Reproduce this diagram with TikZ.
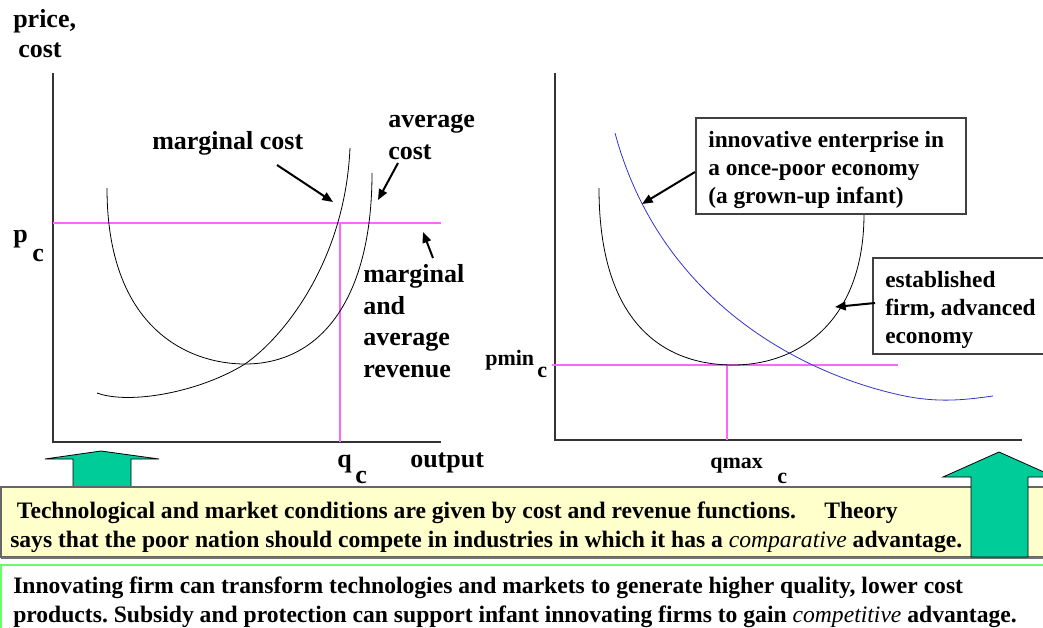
\documentclass[tikz,border=0pt]{standalone}
\usepackage{fontspec}
\setmainfont{Liberation Serif}
\usetikzlibrary{arrows.meta,positioning}
\definecolor{guidepink}{RGB}{255,102,255}
\definecolor{curveblue}{RGB}{51,51,204}
\definecolor{arrowgreen}{RGB}{0,204,153}
\definecolor{noteyellow}{RGB}{255,255,204}
\definecolor{notegreen}{RGB}{102,255,102}
\frenchspacing

\begin{document}
\begin{tikzpicture}[x=0.75pt,y=-0.75pt,
    lbl/.style={anchor=base west, inner sep=0pt, align=left, font=\fontsize{19.5}{23.6}\selectfont\bfseries},
    boxlbl/.style={anchor=base west, inner sep=0pt, align=left, font=\fontsize{17.5}{21}\selectfont\bfseries},
    notelbl/.style={anchor=base west, inner sep=0pt, align=left, font=\fontsize{17.7}{21.3}\selectfont\bfseries},
    sml/.style={anchor=base west, inner sep=0pt, font=\fontsize{16.5}{20}\selectfont\bfseries},
    axis/.style={black!80, line width=0.8pt},
    guide/.style={guidepink, line width=0.9pt},
    curve/.style={line width=0.6pt},
    pointer/.style={-{Triangle[length=8pt,width=6.5pt]}, line width=1.5pt},
    bigarrow/.style={fill=arrowgreen, draw=black, line width=0.6pt}
]
    \useasboundingbox (0,0) rectangle (1043,628);
    \clip (0,0) rectangle (1043,628);

    % left diagram
    \draw[axis] (53,73) -- (53,442) -- (441,442);
    \draw[guide] (53,223) -- (441,223);
    \draw[guide] (340,223) -- (340,442);
    \draw[curve] (107,188) .. controls (107,330) and (190,364) .. (245,364)
        .. controls (320,364) and (372,300) .. (372,173);
    \draw[curve] (97,393) .. controls (130,405) and (200,392) .. (245,364)
        .. controls (285,336) and (345,260) .. (350,148);

    \node[lbl] (price) at (13,27) {price,};
    \node[lbl] (cost) at (18,57) {cost};
    \node[lbl] (pc) at (13,242) {p};
    \node[lbl] (pcsub) at (32,261) {c};
    \node[lbl] (mclab) at (152,149) {marginal cost};
    \node[lbl] (aclab) at (388,159) {average\\cost};
    \node[lbl] (revlab) at (363,377) {marginal\\and\\average\\revenue};
    \node[lbl] (qc) at (337,467) {q};
    \node[lbl] (qcsub) at (355,483) {c};
    \node[lbl] (output) at (410,467) {output};

    \coordinate (mctail) at (277,165);
    \coordinate (mchead) at (333,202);
    \coordinate (actail) at (398,163);
    \coordinate (achead) at (378,200);
    \coordinate (revtail) at (433,258);
    \coordinate (revhead) at (423,232);
    \draw[pointer] (mctail) -- (mchead);
    \draw[pointer] (actail) -- (achead);
    \draw[pointer] (revtail) -- (revhead);

    % right diagram
    \draw[axis] (555,73) -- (555,440) -- (1022,440);
    \draw[guide] (552,365) -- (898,365);
    \draw[guide] (727,365) -- (727,440);
    \draw[curve] (599,188) .. controls (599,330) and (670,365) .. (733,365)
        .. controls (800,365) and (864,320) .. (864,214);
    \draw[curve, curveblue] (615,133) .. controls (660,300) and (800,373) .. (900,395)
        .. controls (940,404) and (970,399) .. (993,396);

    \draw[black!75, fill=white, line width=0.8pt] (696,118) rectangle (966,214);
    \draw[black!75, fill=white, line width=0.8pt] (873,258) rectangle (1050,354);
    \node[boxlbl] (innovlab) at (708,203) {innovative enterprise in\\a once-poor economy\\(a grown-up infant)};
    \node[boxlbl] (estlab) at (885,343) {established\\firm, advanced\\economy};
    \node[sml] (pmin) at (485,365) {pmin};
    \node[sml] (pminsub) at (537,377) {c};
    \node[sml] (qmax) at (710,468) {qmax};
    \node[sml] (qmaxsub) at (777,483) {c};

    \coordinate (innovtail) at (695,172);
    \coordinate (innovhead) at (642,204);
    \coordinate (esttail) at (875,303);
    \coordinate (esthead) at (835,307);
    \draw[pointer] (innovtail) -- (innovhead);
    \draw[pointer] (esttail) -- (esthead);

    % notes and arrows
    \draw[bigarrow] (101,451) -- (159,459) -- (131,459) -- (131,492) -- (73,492) -- (73,459) -- (45,459) -- cycle;
    \draw[black!60, fill=noteyellow, line width=0.8pt] (1,487) rectangle (1050,557);
    \draw[black!55, line width=1.5pt] (1,558) -- (1050,558);
    \draw[bigarrow] (999,452) -- (1055,477) -- (1028,477) -- (1028,557) -- (971,557) -- (971,477) -- (943,477) -- cycle;
    \node[notelbl] (givenlab) at (10,547) {\hspace{5pt}Technological and market conditions are given by cost and revenue functions.\hspace{1.2em}Theory\\says that the poor nation should compete in industries in which it has a \textmd{\itshape comparative} advantage.};

    \draw[notegreen, fill=white, line width=1.2pt] (1,565) rectangle (1050,640);
    \node[notelbl] (innovnote) at (13,622) {Innovating firm can transform technologies and markets to generate higher quality, lower cost\\products. Subsidy and protection can support infant innovating firms to gain \textmd{\itshape competitive} advantage.};
\end{tikzpicture}
\end{document}
